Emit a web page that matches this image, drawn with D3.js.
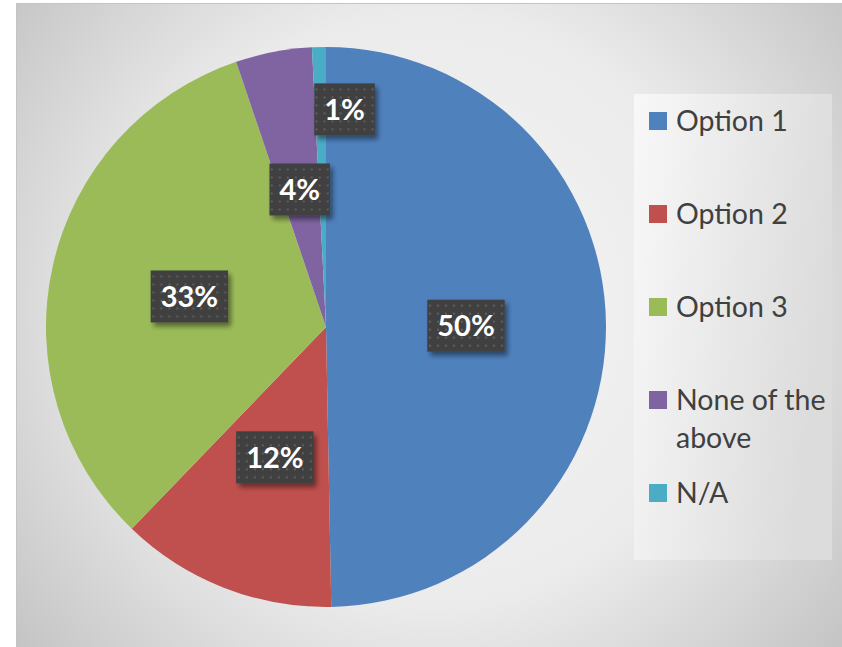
<!DOCTYPE html>
<html>
<head>
<meta charset="utf-8">
<script src="https://cdn.jsdelivr.net/npm/d3@7"></script>
<style>
  body { margin: 0; background: #fff; }
  svg { display: block; }
</style>
</head>
<body>
<svg id="chart" width="842" height="647"></svg>
<script>
// data
var categories = ["Option 1", "Option 2", "Option 3", "None of the above", "N/A"];
var values = [49.7, 12.5, 32.6, 4.4, 0.8];
var labels = ["50%", "12%", "33%", "4%", "1%"];
var colors = ["#4F81BD", "#C0504D", "#9BBB59", "#8064A2", "#4BACC6"];

var svg = d3.select("#chart");
var defs = svg.append("defs");

// background gradient of the chart area
var bg = defs.append("radialGradient")
    .attr("id", "bgGrad")
    .attr("gradientUnits", "userSpaceOnUse")
    .attr("cx", 430).attr("cy", 310).attr("r", 540);
bg.append("stop").attr("offset", "0").attr("stop-color", "#f6f6f6");
bg.append("stop").attr("offset", "0.55").attr("stop-color", "#ebebeb");
bg.append("stop").attr("offset", "1").attr("stop-color", "#c3c3c3");

// legend fill
var lg = defs.append("linearGradient")
    .attr("id", "legGrad")
    .attr("x1", "0").attr("y1", "0").attr("x2", "1").attr("y2", "0.3");
lg.append("stop").attr("offset", "0").attr("stop-color", "#f8f8f8");
lg.append("stop").attr("offset", "1").attr("stop-color", "#dcdcdc");

// dotted pattern for the data label boxes
var pat = defs.append("pattern")
    .attr("id", "dots")
    .attr("patternUnits", "userSpaceOnUse")
    .attr("width", 8).attr("height", 8);
pat.append("rect").attr("width", 8).attr("height", 8).attr("fill", "#3f3f3f");
pat.append("rect").attr("x", 3).attr("y", 3).attr("width", 2).attr("height", 2).attr("fill", "#5e5e5e");

// shadow under the label boxes
var f = defs.append("filter").attr("id", "shadow")
    .attr("x", "-20%").attr("y", "-20%").attr("width", "150%").attr("height", "150%");
f.append("feGaussianBlur").attr("in", "SourceAlpha").attr("stdDeviation", 2.5);
f.append("feOffset").attr("dx", 3).attr("dy", 4).attr("result", "off");
f.append("feComponentTransfer").append("feFuncA").attr("type", "linear").attr("slope", 0.45);
var m = f.append("feMerge");
m.append("feMergeNode");
m.append("feMergeNode").attr("in", "SourceGraphic");

// chart area
svg.append("rect")
    .attr("x", 16.5).attr("y", 3.5)
    .attr("width", 830).attr("height", 650)
    .attr("fill", "url(#bgGrad)")
    .attr("stroke", "#c4c4c4");

// pie
var cx = 326, cy = 327, radius = 280;
var pie = d3.pie().sort(null).value(function(d) { return d; });
var arcs = pie(values);
var arc = d3.arc().innerRadius(0).outerRadius(radius);

var g = svg.append("g").attr("transform", "translate(" + cx + "," + cy + ")");

g.selectAll("path.slice")
    .data(arcs)
    .enter()
    .append("path")
      .attr("class", "slice")
      .attr("d", arc)
      .attr("fill", function(d, i) { return colors[i]; });

// data labels: centroid at half radius, tiny slices pushed out past their end
function labelPos(d) {
    var a = (d.startAngle + d.endAngle) / 2, r = radius * 0.5;
    if (d.endAngle - d.startAngle < 0.1) {
        a = d.endAngle + 0.085;
        r = radius * 0.78;
    }
    return [r * Math.sin(a), -r * Math.cos(a)];
}

var lab = g.selectAll("g.lab")
    .data(arcs)
    .enter()
    .append("g")
      .attr("class", "lab")
      .attr("transform", function(d) { return "translate(" + labelPos(d) + ")"; });

var boxes = lab.append("rect")
    .attr("fill", "url(#dots)")
    .attr("filter", "url(#shadow)");

var txt = lab.append("text")
    .attr("text-anchor", "middle")
    .attr("dy", "0.36em")
    .attr("fill", "#fff")
    .style("font-family", "Lato, 'Open Sans', sans-serif")
    .style("font-weight", "bold")
    .style("font-size", "29px")
    .text(function(d, i) { return labels[i]; });

txt.each(function(d, i) {
    var w = this.getComputedTextLength() + 20, h = 52;
    d3.select(this.parentNode).select("rect")
        .attr("x", -w / 2).attr("y", -h / 2)
        .attr("width", w).attr("height", h);
});

// legend
svg.append("rect")
    .attr("x", 634).attr("y", 94)
    .attr("width", 198).attr("height", 466)
    .attr("fill", "url(#legGrad)");

var ly = d3.scaleLinear().domain([0, 1]).range([121, 214]);

var leg = svg.selectAll("g.leg")
    .data(categories)
    .enter()
    .append("g")
      .attr("class", "leg")
      .attr("transform", function(d, i) { return "translate(649," + ly(i) + ")"; });

leg.append("rect")
    .attr("x", 0).attr("y", -9)
    .attr("width", 18).attr("height", 18)
    .attr("fill", function(d, i) { return colors[i]; });

leg.append("text")
    .attr("x", 27)
    .attr("y", 10)
    .attr("fill", "#404040")
    .style("font-family", "Lato, 'Open Sans', sans-serif")
    .style("font-size", "28.5px")
    .each(function(d) {
        // simple word wrap to the legend width
        var el = d3.select(this), words = d.split(" "), line = [];
        var ts = el.append("tspan").attr("x", 27);
        words.forEach(function(w) {
            line.push(w);
            ts.text(line.join(" "));
            if (ts.node().getComputedTextLength() > 158 && line.length > 1) {
                line.pop();
                ts.text(line.join(" "));
                line = [w];
                ts = el.append("tspan").attr("x", 27).attr("dy", 38).text(w);
            }
        });
    });
</script>
</body>
</html>
